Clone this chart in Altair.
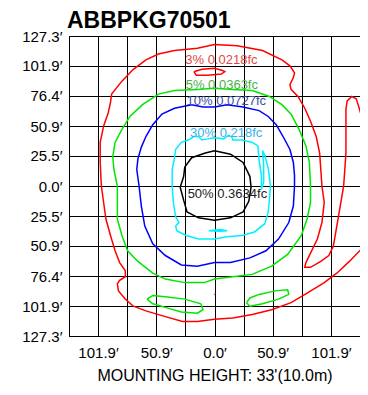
import altair as alt
import pandas as pd

FONT = "Liberation Sans"

TITLE = "ABBPKG70501"
X_TITLE = "MOUNTING HEIGHT: 33'(10.0m)"

# grid positions (feet) and which x positions carry a label
GRID = [-127.3, -101.9, -76.4, -50.9, -25.5, 0.0, 25.5, 50.9, 76.4, 101.9, 127.3]
X_LABELED = [-101.9, -50.9, 0.0, 50.9, 101.9]

LEVELS = ["3% 0.0218fc", "5% 0.0363fc", "10% 0.0727fc", "30% 0.218fc", "50% 0.3634fc"]
LINE_COLORS = ["#ff0000", "#00e600", "#0000ff", "#00f0ff", "#000000"]
LABEL_COLORS = ["#e24848", "#4cb04c", "#3a4ea4", "#38b2e8", "#222222"]
LABEL_X = [-25.6, -25.2, -24.4, -21.4, -23.5]
LABEL_Y = [103.5, 82.3, 68.7, 41.6, -10.2]

# contour traces (feet)
RED_3 = [(0, 120), (20, 119), (42, 115), (59, 107), (66, 102), (70, 96), (69, 92), (66, 86),
         (67, 82), (73, 76), (79, 66), (84, 55), (89, 42), (92, 28), (93, 14), (94, 0),
         (96, -14), (94, -31), (90, -45), (84, -57), (80, -65), (79, -69), (84, -69),
         (93, -64), (100, -59), (104, -51), (107, -34), (110, -17), (113, 0), (114, 14),
         (115, 28), (115, 48), (115, 65), (116, 72), (120, 76), (124, 74), (126, 68),
         (132, 48), (134, 0), (132, -42), (128, -54), (118, -64), (107, -74), (96, -82),
         (81, -91), (67, -99), (50, -105), (33, -109), (16, -112), (0, -113), (-15, -115),
         (-28, -115), (-46, -110), (-60, -106), (-71, -102), (-78, -96), (-84, -89),
         (-85, -83), (-83, -80), (-78, -77), (-78, -72), (-83, -65), (-87, -55), (-91, -42),
         (-95, -28), (-97, -14), (-99, 0), (-100, 20), (-100, 37), (-97, 51), (-93, 62),
         (-91, 71), (-90, 78), (-81, 89), (-71, 99), (-60, 107), (-49, 112), (-35, 115),
         (-15, 117), (0, 120)]
RED_3_TOP = [(-18, 97), (-11, 99), (0, 100), (7, 98), (9, 97), (6, 95), (-6, 94), (-16, 94), (-18, 97)]
RED_3_DOT = [(0, -91.5), (0.6, -92)]

GREEN_5 = [(0, 83), (16, 82), (33, 81), (48, 76), (59, 69), (67, 61), (74, 48), (80, 34),
           (83, 20), (84, 0), (84, -14), (81, -28), (76, -42), (64, -58), (50, -68), (33, -75),
           (16, -77), (0, -79), (-9, -82), (-26, -82), (-43, -79), (-54, -74), (-67, -64),
           (-76, -55), (-81, -42), (-85, -28), (-85, -14), (-85, 0), (-88, 14), (-89, 25),
           (-87, 37), (-81, 48), (-74, 59), (-63, 69), (-49, 78), (-35, 81), (-15, 82), (0, 83)]
GREEN_5_LEFT = [(-59, -96), (-54, -93), (-43, -94), (-26, -96), (-12, -100), (-10, -105),
                (-15, -108), (-29, -107), (-43, -103), (-54, -100), (-59, -96)]
GREEN_5_RIGHT = [(28, -99), (31, -95), (39, -92), (53, -89), (64, -88), (65, -92), (56, -96),
                 (42, -100), (31, -102), (28, -99)]

BLUE_10 = [(0, 67), (11, 69), (25, 67), (39, 64), (47, 59), (54, 52), (60, 42), (66, 31),
           (69, 20), (70, 9), (70, 0), (69, -17), (65, -31), (56, -45), (45, -55), (31, -61),
           (14, -65), (0, -65), (-15, -68), (-29, -67), (-43, -59), (-54, -49), (-61, -34),
           (-64, -17), (-66, 0), (-68, 14), (-67, 23), (-64, 33), (-60, 42), (-54, 52),
           (-46, 61), (-35, 66), (-20, 69), (-10, 67), (0, 67)]

CYAN_30 = [(0, 41), (8, 40), (12, 43), (15, 42), (16, 39), (24, 39), (33, 37), (38, 34),
           (39, 22), (41, 9), (41, -3), (43, 3), (43, 18), (42, 30), (44, 26), (47, 15),
           (49, 0), (48, -12), (47, -22), (44, -32), (35, -39), (24, -42), (11, -43), (0, -45),
           (-14, -45), (-25, -42), (-33, -38), (-34, -34), (-31, -31), (-34, -26), (-36, -14),
           (-37, 0), (-37, 14), (-35, 24), (-34, 31), (-29, 37), (-23, 39), (-18, 42),
           (-14, 42), (-11, 39), (-6, 40), (0, 41)]
CYAN_30_BIT = [(-5, -38), (5, -37), (11, -38), (5, -38.5), (-5, -38)]

BLACK_50 = [(0, 30), (14, 27), (25, 20), (31, 8), (32, -1), (30, -13), (25, -22), (14, -27),
            (0, -29), (-14, -27), (-24, -22), (-27, -12), (-30, -1), (-27, 8), (-26, 16),
            (-20, 24), (-8, 28), (0, 30)]

SEGMENTS = [
    ("red_main", 0, RED_3), ("red_top", 0, RED_3_TOP), ("red_dot", 0, RED_3_DOT),
    ("green_main", 1, GREEN_5), ("green_left", 1, GREEN_5_LEFT), ("green_right", 1, GREEN_5_RIGHT),
    ("blue_main", 2, BLUE_10),
    ("cyan_main", 3, CYAN_30), ("cyan_bit", 3, CYAN_30_BIT),
    ("black_main", 4, BLACK_50),
]

rows = []
for name, lvl, pts in SEGMENTS:
    for i, (x, y) in enumerate(pts):
        rows.append({"seg": name, "i": i, "x": x, "y": y, "color": LINE_COLORS[lvl]})
df_lines = pd.DataFrame(rows)

df_labels = pd.DataFrame({"label": LEVELS, "x": LABEL_X, "y": LABEL_Y, "color": LABEL_COLORS})

x_label_expr = ("indexof(" + str(X_LABELED) + ", datum.value) >= 0 ? "
                "format(abs(datum.value), '.1f') + '\u2032' : ''")
y_label_expr = "format(abs(datum.value), '.1f') + '\u2032'"

x_enc = alt.X(
    "x:Q",
    scale=alt.Scale(domain=[GRID[0], GRID[-1]], nice=False, zero=False),
    axis=alt.Axis(values=GRID, grid=True, gridColor="black", gridOpacity=1, gridWidth=1,
                  ticks=False, domain=False, labelExpr=x_label_expr, labelFont=FONT,
                  labelFontSize=15, labelColor="black", labelPadding=9.5, labelOverlap=False,
                  labelFlush=False, title=X_TITLE, titleFont=FONT, titleFontSize=16,
                  titleFontWeight="normal", titleColor="black", titlePadding=7),
)
y_enc = alt.Y(
    "y:Q",
    scale=alt.Scale(domain=[GRID[0], GRID[-1]], nice=False, zero=False),
    axis=alt.Axis(values=GRID, grid=True, gridColor="black", gridOpacity=1, gridWidth=1,
                  ticks=False, domain=False, labelExpr=y_label_expr, labelFont=FONT,
                  labelFontSize=15, labelColor="black", labelPadding=7, labelOverlap=False,
                  labelFlush=False, title=""),
)

lines = alt.Chart(df_lines).mark_line(strokeWidth=1.5, clip=True).encode(
    x=x_enc, y=y_enc, order="i:Q", detail="seg:N",
    color=alt.Color("color:N", scale=None),
)

texts = alt.Chart(df_labels).mark_text(
    align="left", baseline="alphabetic", font=FONT, fontSize=13
).encode(
    x=x_enc, y=y_enc, text="label:N", color=alt.Color("color:N", scale=None),
)

chart = alt.layer(lines, texts).properties(
    width=291, height=300,
    autosize=alt.AutoSizeParams(type="none"),
    padding={"left": 61, "top": 28, "right": 0, "bottom": 50},
    title=alt.TitleParams(text=TITLE, anchor="start", frame="group", font=FONT, fontSize=23,
                          fontWeight="bold", color="black", offset=0, dx=-2, dy=4),
).configure_view(stroke="black", strokeWidth=1)

chart.save("out.html", embed_options={"renderer": "svg", "actions": False})
